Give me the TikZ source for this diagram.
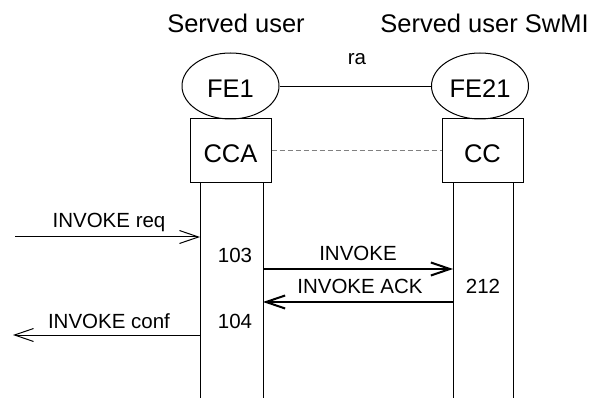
\documentclass[tikz,border=0pt]{standalone}
\usepackage{fontspec}
\setmainfont{Liberation Sans}
\usetikzlibrary{shapes.geometric,arrows.meta}
\begin{document}
\begin{tikzpicture}[x=1pt,y=-1pt,
  big/.style={font=\fontsize{25.5}{30}\selectfont, inner sep=0, anchor=base},
  small/.style={font=\fontsize{20.5}{24}\selectfont, inner sep=0, anchor=base},
  fe/.style={draw, ellipse, minimum width=97pt, minimum height=66pt, inner sep=0, line width=1pt, text height=23pt, text depth=0pt, font=\fontsize{25.5}{30}\selectfont},
  fbox/.style={draw, rectangle, minimum width=81pt, minimum height=64pt, inner sep=0, line width=1pt, text height=24pt, text depth=0pt, font=\fontsize{25.5}{30}\selectfont},
  life/.style={line width=1pt},
  tip/.style={-{Straight Barb[length=19pt,width=13pt]}},
  msg/.style={line width=1pt, tip},
  msgb/.style={line width=2pt, tip},
]
\useasboundingbox (0,0) rectangle (595,401);
% headers
\node[big] (h1) at (236,33) {Served user};
\node[big] (h2) at (484.5,33) {Served user SwMI};
\node[small] (ra) at (357,65) {ra};
% functional entities
\node[fe] (fe1) at (230.5,86) {FE1};
\node[fe] (fe21) at (480,86) {FE21};
\draw[line width=1pt] ([yshift=-1pt]fe1.east) -- ([yshift=-1pt]fe21.west);
\node[fbox] (cca) at (230.5,151) {CCA};
\node[fbox] (cc) at (482.5,151) {CC};
\draw[line width=1pt, dashed, dash pattern=on 5pt off 3pt, gray] (cca) -- (cc);
% lifelines
\coordinate (la) at (200,183); \coordinate (laE) at (200,398);
\coordinate (lb) at (263,183); \coordinate (lbE) at (263,398);
\coordinate (lc) at (453,183); \coordinate (lcE) at (453,398);
\coordinate (ld) at (513,183); \coordinate (ldE) at (513,398);
\draw[life] (la) -- (laE);
\draw[life] (lb) -- (lbE);
\draw[life] (lc) -- (lcE);
\draw[life] (ld) -- (ldE);
% messages
\coordinate (reqS) at (15,237); \coordinate (reqE) at (200,237);
\draw[msg] (reqS) -- (reqE);
\node[small] (reqT) at (109,228) {INVOKE req};
\node[small] (n103) at (235,262) {103};
\coordinate (invS) at (263,269); \coordinate (invE) at (453,269);
\draw[msgb] (invS) -- (invE);
\node[small] (invT) at (358,261) {INVOKE};
\coordinate (ackS) at (453,302); \coordinate (ackE) at (263,302);
\draw[msgb] (ackS) -- (ackE);
\node[small] (ackT) at (360,293) {INVOKE ACK};
\node[small] (n212) at (483,294) {212};
\node[small] (n104) at (235,328) {104};
\coordinate (cnfS) at (200,335); \coordinate (cnfE) at (13,335);
\draw[msg] (cnfS) -- (cnfE);
\node[small] (cnfT) at (109,328) {INVOKE conf};
\end{tikzpicture}
\end{document}
